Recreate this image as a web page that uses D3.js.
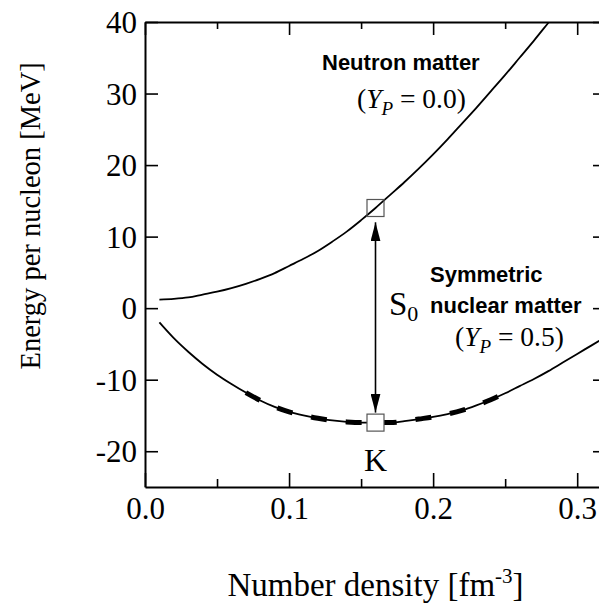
<!DOCTYPE html>
<html>
<head>
<meta charset="utf-8">
<script src="https://cdn.jsdelivr.net/npm/d3@7"></script>
<style>
    body { margin: 0; background: #fff; }
    svg { display: block; }
</style>
</head>
<body>
<div class="chart"></div>
<script>
// density [fm^-3]
const density = [0.010, 0.020, 0.030, 0.040, 0.050, 0.060, 0.070, 0.080, 0.090, 0.100,
    0.110, 0.120, 0.130, 0.140, 0.150, 0.160, 0.170, 0.180, 0.190, 0.200,
    0.210, 0.220, 0.230, 0.240, 0.250, 0.260, 0.270, 0.280, 0.290, 0.300, 0.310, 0.320];
// energy per nucleon [MeV]
const neutronMatter = [1.2, 1.3, 1.5, 1.9, 2.3, 2.8, 3.4, 4.1, 4.9, 5.9,
    6.9, 8.0, 9.3, 10.7, 12.3, 14.0, 15.8, 17.6, 19.5, 21.5,
    23.6, 25.8, 28.0, 30.3, 32.6, 35.0, 37.4, 39.9, 42.4, 45.0, 47.6, 50.2];
const symmetricMatter = [-2.0, -4.2, -6.1, -7.8, -9.3, -10.6, -11.8, -12.9, -13.8, -14.5,
    -15.0, -15.4, -15.7, -15.9, -16.0, -16.0, -16.0, -15.8, -15.5, -15.2,
    -14.8, -14.3, -13.6, -12.8, -11.9, -10.9, -9.9, -8.8, -7.6, -6.4, -5.2, -4.0];
const fitRange = [0.07, 0.25];
const saturation = {density: 0.16, neutron: 14.0, symmetric: -16.0};
const arrowEnds = [12.0, -14.6];

const xMajorTicks = [0.0, 0.1, 0.2, 0.3];
const xMinorTicks = [0.05, 0.15, 0.25];
const yTicks = [-20, -10, 0, 10, 20, 30, 40];

const dimensions = {
    width: 599,
    height: 606,
    margin: {left: 145, right: -7, top: 22, bottom: 119}
};
const serif = '"Liberation Serif", "Times New Roman", serif';
const sans = '"Liberation Sans", Arial, sans-serif';

const svg = d3.select('.chart').append('svg')
    .attr('width', dimensions.width)
    .attr('height', dimensions.height);

const x = d3.scaleLinear()
    .domain([0, 0.32])
    .range([dimensions.margin.left, dimensions.width - dimensions.margin.right]);
const y = d3.scaleLinear()
    .domain([-25, 40])
    .range([dimensions.height - dimensions.margin.bottom, dimensions.margin.top]);

const plotBottom = y(-25), plotTop = y(40), plotLeft = x(0), plotRight = x(0.32);

const nm = density.map((d, i) => [d, neutronMatter[i]]);
const sm = density.map((d, i) => [d, symmetricMatter[i]]);
const line = d3.line().x(d => x(d[0])).y(d => y(d[1])).curve(d3.curveMonotoneX);

svg.append('defs').append('clipPath').attr('id', 'plot-clip')
    .append('rect')
    .attr('x', plotLeft).attr('y', plotTop)
    .attr('width', plotRight - plotLeft).attr('height', plotBottom - plotTop);

const marker = svg.select('defs').append('marker')
    .attr('id', 'head')
    .attr('viewBox', '0 0 19 10')
    .attr('refX', 19).attr('refY', 5)
    .attr('markerWidth', 19).attr('markerHeight', 10)
    .attr('markerUnits', 'userSpaceOnUse')
    .attr('orient', 'auto-start-reverse');
marker.append('path').attr('d', 'M0,0L19,5L0,10Z').attr('fill', '#000');

const curves = svg.append('g').attr('clip-path', 'url(#plot-clip)');

// thick dashed part (fit region)
curves.append('path')
    .attr('d', line(sm.filter(d => d[0] >= fitRange[0] - 1e-9 && d[0] <= fitRange[1] + 1e-9)))
    .attr('fill', 'none')
    .attr('stroke', '#000')
    .attr('stroke-width', 5)
    .attr('stroke-dasharray', '16,19');

curves.append('path')
    .attr('d', line(nm))
    .attr('fill', 'none')
    .attr('stroke', '#000')
    .attr('stroke-width', 1.8);

curves.append('path')
    .attr('d', line(sm))
    .attr('fill', 'none')
    .attr('stroke', '#000')
    .attr('stroke-width', 1.8);

// S0 arrow
svg.append('line')
    .attr('x1', x(saturation.density)).attr('x2', x(saturation.density))
    .attr('y1', y(arrowEnds[0])).attr('y2', y(arrowEnds[1]))
    .attr('stroke', '#000')
    .attr('stroke-width', 1.6)
    .attr('marker-start', 'url(#head)')
    .attr('marker-end', 'url(#head)');

// saturation point boxes
svg.append('g')
    .selectAll('rect')
    .data([[saturation.neutron, 'none'], [saturation.symmetric, '#fff']])
    .join('rect')
    .attr('x', x(saturation.density) - 8.5)
    .attr('y', d => y(d[0]) - 8.5)
    .attr('width', 17).attr('height', 17)
    .attr('fill', d => d[1])
    .attr('stroke', '#555')
    .attr('stroke-width', 1.2);

// axes
const styleAxis = g => {
    g.select('.domain').attr('stroke-width', 2);
    g.selectAll('.tick line').attr('stroke-width', 1.6);
    g.selectAll('.tick text').style('font', `31px ${serif}`).attr('fill', '#000');
};

svg.append('g').attr('transform', `translate(0,${plotBottom})`)
    .call(d3.axisBottom(x).tickValues(xMajorTicks).tickSize(-14).tickSizeOuter(0).tickPadding(10)
        .tickFormat(d3.format('.1f')))
    .call(styleAxis);
svg.append('g').attr('transform', `translate(0,${plotBottom})`)
    .call(d3.axisBottom(x).tickValues(xMinorTicks).tickSize(-8).tickFormat(''))
    .call(g => g.select('.domain').remove())
    .call(styleAxis);
svg.append('g').attr('transform', `translate(0,${plotTop})`)
    .call(d3.axisTop(x).tickValues(xMajorTicks).tickSize(-13).tickSizeOuter(0).tickFormat(''))
    .call(styleAxis);
svg.append('g').attr('transform', `translate(0,${plotTop})`)
    .call(d3.axisTop(x).tickValues(xMinorTicks).tickSize(-7).tickFormat(''))
    .call(g => g.select('.domain').remove())
    .call(styleAxis);
svg.append('g').attr('transform', `translate(${plotLeft},0)`)
    .call(d3.axisLeft(y).tickValues(yTicks).tickSize(-13).tickSizeOuter(0).tickPadding(8)
        .tickFormat(d => String(d)))
    .call(styleAxis)
    .call(g => g.selectAll('.tick text').attr('dy', '0.34em'));
svg.append('g').attr('transform', `translate(${plotRight},0)`)
    .call(d3.axisRight(y).tickValues(yTicks).tickSize(-13).tickSizeOuter(0).tickFormat(''))
    .call(styleAxis);

// axis titles
svg.append('text')
    .attr('transform', `translate(40,${y(12.9)}) rotate(-90)`)
    .attr('text-anchor', 'middle')
    .style('font', `28.5px ${serif}`)
    .text('Energy per nucleon [MeV]');

const xTitle = svg.append('text')
    .attr('x', (plotLeft + plotRight) / 2).attr('y', 596)
    .attr('text-anchor', 'middle')
    .style('font', `33px ${serif}`);
xTitle.append('tspan').text('Number density [fm');
xTitle.append('tspan').attr('dy', -13).style('font-size', '21px').text('-3');
xTitle.append('tspan').attr('dy', 13).text(']');

// annotations
const addLabel = (px, py, str) => svg.append('text')
    .attr('x', px).attr('y', py)
    .style('font', `bold 22px ${sans}`)
    .text(str);

const addYp = (px, py, val) => {
    const t = svg.append('text')
        .attr('x', px).attr('y', py)
        .style('font', `27.5px ${serif}`);
    t.append('tspan').text('(');
    t.append('tspan').style('font-style', 'italic').text('Y');
    t.append('tspan').attr('dy', 7).style('font-style', 'italic').style('font-size', '19px').text('P');
    t.append('tspan').attr('dy', -7).text(` = ${val})`);
};

addLabel(322, 70, 'Neutron matter');
addYp(357, 108, '0.0');
addLabel(430, 282, 'Symmetric');
addLabel(430, 313, 'nuclear matter');
addYp(455, 346, '0.5');

const s0 = svg.append('text')
    .attr('x', 389).attr('y', 315)
    .style('font', `33px ${serif}`);
s0.append('tspan').text('S');
s0.append('tspan').attr('dy', 6).style('font-size', '22px').text('0');

svg.append('text')
    .attr('x', x(saturation.density)).attr('y', 471)
    .attr('text-anchor', 'middle')
    .style('font', `32px ${serif}`)
    .text('K');
</script>
</body>
</html>
